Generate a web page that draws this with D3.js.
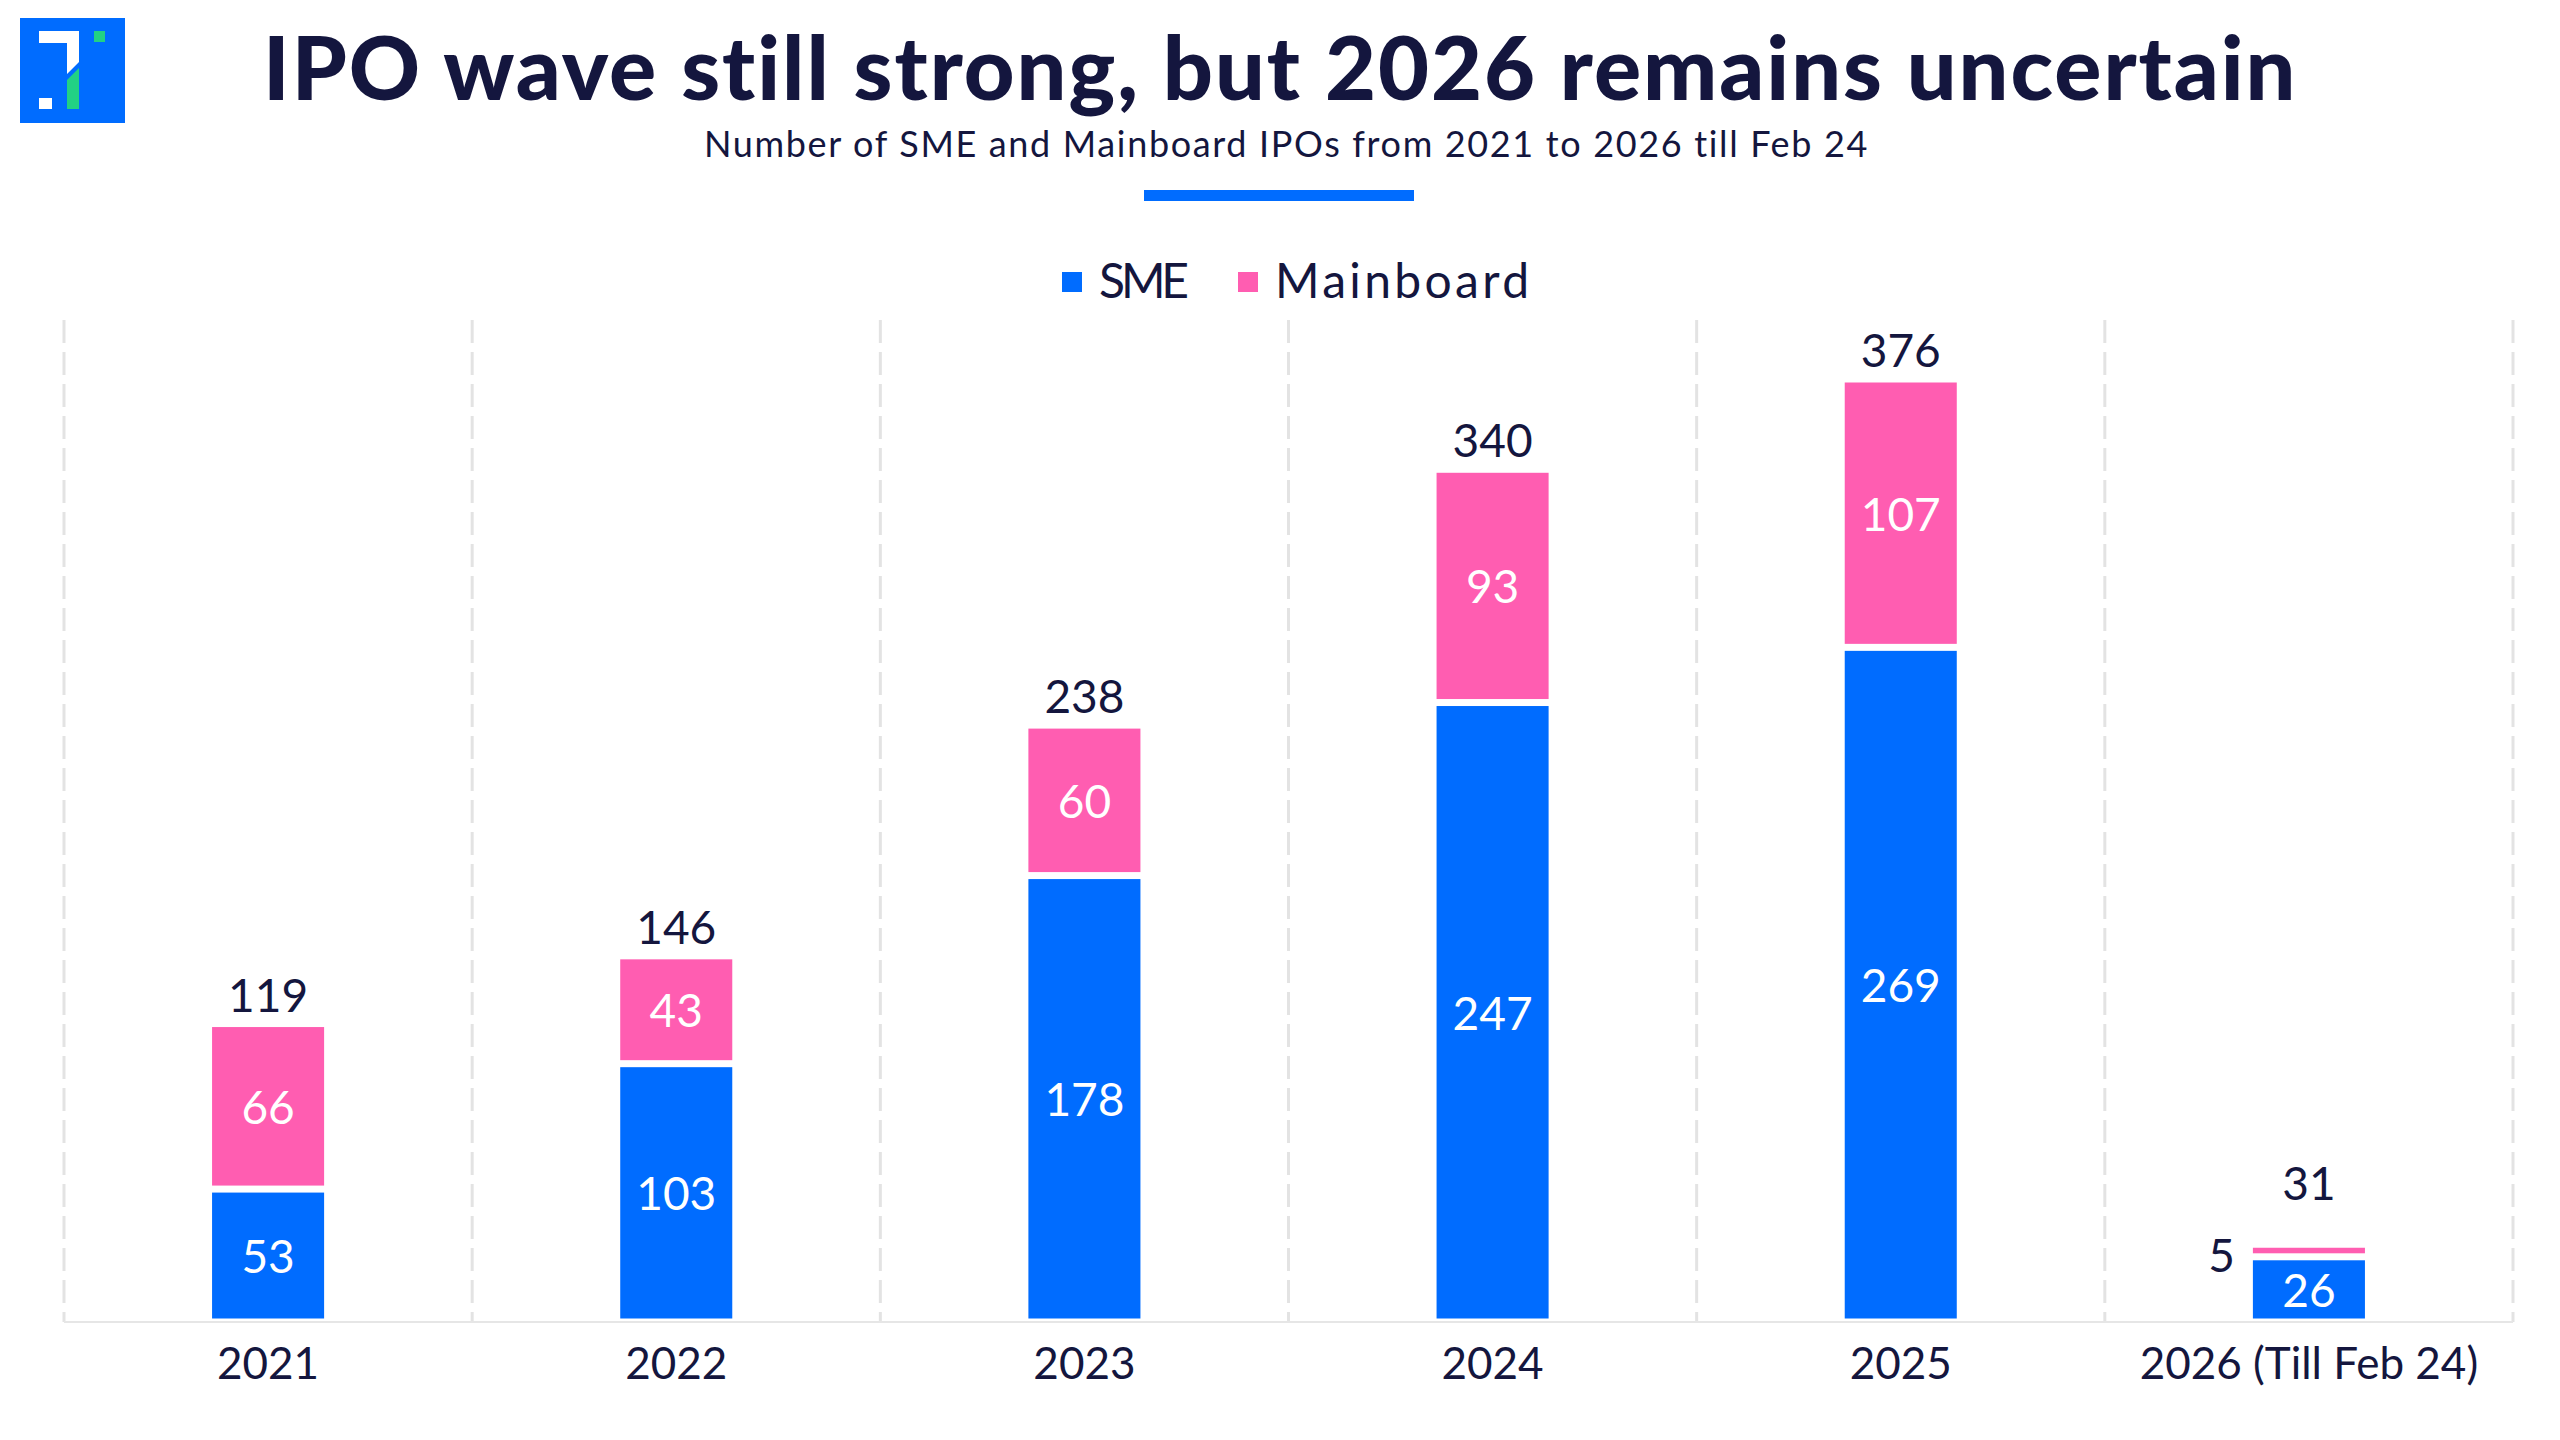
<!DOCTYPE html>
<html>
<head>
<meta charset="utf-8">
<script src="https://cdn.jsdelivr.net/npm/d3@7"></script>
<style>
  html, body { margin: 0; padding: 0; background: #fff; }
  svg { display: block; font-family: Lato, "Noto Sans", sans-serif; }
</style>
</head>
<body>
<script>
// chart data
let years = ["2021", "2022", "2023", "2024", "2025", "2026 (Till Feb 24)"];
let smeIPOs = [53, 103, 178, 247, 269, 26];
let mainboardIPOs = [66, 43, 60, 93, 107, 5];
let totalIPOs = [119, 146, 238, 340, 376, 31];
let seriesNames = ["SME", "Mainboard"];

let width = 2560;
let height = 1440;
let navy = "#14163e";
let blue = "#006cff";
let pink = "#ff5db1";
let plotLeft = 64, plotRight = 2513, plotTop = 320, baseY = 1322;

let svg = d3.select("body").append("svg").attr("width", width).attr("height", height);
svg.append("rect").attr("width", width).attr("height", height).attr("fill", "#fff");

// stretch letter-spacing so text spans a target width
function fitWidth(sel, target){
	let node = sel.node();
	let n = sel.text().length;
	let w = node.getComputedTextLength();
	sel.attr("letter-spacing", ((target - w) / Math.max(n - 1, 1)).toFixed(2));
}

// logo
let logo = svg.append("g");
logo.append("rect").attr("x", 20).attr("y", 18).attr("width", 105).attr("height", 105).attr("fill", blue);
logo.append("polygon").attr("points", "39,31 79,31 79,62 67,74 67,43 39,43").attr("fill", "#fff");
logo.append("polygon").attr("points", "79,68 79,109 67,109 67,80").attr("fill", "#22d184");
logo.append("rect").attr("x", 94).attr("y", 31).attr("width", 11).attr("height", 11).attr("fill", "#22d184");
logo.append("rect").attr("x", 39).attr("y", 98).attr("width", 13).attr("height", 11).attr("fill", "#fff");

// titles
let title = svg.append("text")
	.attr("x", 263).attr("y", 100)
	.attr("font-size", 88).attr("font-weight", 900).attr("fill", navy)
	.text("IPO wave still strong, but 2026 remains uncertain");
fitWidth(title, 2034);

let subtitle = svg.append("text")
	.attr("x", 704).attr("y", 157)
	.attr("font-size", 36).attr("fill", navy)
	.text("Number of SME and Mainboard IPOs from 2021 to 2026 till Feb 24");
fitWidth(subtitle, 1164);

svg.append("rect").attr("x", 1144).attr("y", 190).attr("width", 270).attr("height", 11).attr("fill", blue);

// legend
let legendX = [1062, 1238];
let legendWidths = [90, 254];
let legendColors = [blue, pink];
let legend = svg.selectAll(".legend").data(seriesNames).enter().append("g").attr("class", "legend");
legend.append("rect")
	.attr("x", (d, i) => legendX[i]).attr("y", 272)
	.attr("width", 20).attr("height", 20)
	.attr("fill", (d, i) => legendColors[i]);
legend.append("text")
	.attr("x", (d, i) => legendX[i] + 37).attr("y", 298)
	.attr("font-size", 48).attr("fill", navy)
	.text(d => d)
	.each(function(d, i){ fitWidth(d3.select(this), legendWidths[i]); });

// scales
let xScale = d3.scaleBand()
	.domain(years)
	.range([plotLeft, plotRight])
	.paddingInner(0.7255)
	.paddingOuter(0.7255 / 2);

let yScale = d3.scaleLinear()
	.domain([0, d3.max(totalIPOs)])
	.range([baseY, 379]);

// dashed vertical grid lines at band edges
let gridX = years.map(y => xScale(y) - xScale.step() * xScale.paddingOuter()).concat([plotRight]);
svg.selectAll(".grid").data(gridX).enter().append("line")
	.attr("x1", d => d).attr("x2", d => d)
	.attr("y1", plotTop).attr("y2", baseY)
	.attr("stroke", "#e3e3e3").attr("stroke-width", 3)
	.attr("stroke-dasharray", "23,9");

// stacked data
let rows = years.map((y, i) => ({year: y, SME: smeIPOs[i], Mainboard: mainboardIPOs[i], total: totalIPOs[i]}));
let stacked = d3.stack().keys(seriesNames)(rows);
let colorScale = d3.scaleOrdinal().domain(seriesNames).range([blue, pink]);
let gap = 3.5;

let layers = svg.selectAll(".layer").data(stacked).enter().append("g")
	.attr("class", "layer")
	.attr("fill", d => colorScale(d.key));

layers.selectAll("rect").data(d => d).enter().append("rect")
	.attr("x", d => xScale(d.data.year))
	.attr("y", d => yScale(d[1]) + gap)
	.attr("width", xScale.bandwidth())
	.attr("height", d => Math.max(yScale(d[0]) - yScale(d[1]) - 2 * gap, 0));

// segment labels
let labelSize = 46;
layers.each(function(layer){
	d3.select(this).selectAll("text").data(layer).enter().append("text")
		.attr("font-size", labelSize)
		.attr("dominant-baseline", "central")
		.each(function(d){
			let h = yScale(d[0]) - yScale(d[1]);
			let cy = (yScale(d[0]) + yScale(d[1])) / 2;
			let t = d3.select(this).text(d[1] - d[0]);
			if(h < labelSize){
				// too thin: put the number to the left of the bar
				t.attr("x", xScale(d.data.year) - 18).attr("y", cy + 4)
				 .attr("text-anchor", "end").attr("fill", navy);
				d.data.outside = true;
			} else {
				t.attr("x", xScale(d.data.year) + xScale.bandwidth() / 2).attr("y", cy)
				 .attr("text-anchor", "middle").attr("fill", "#fff");
			}
		});
});

// totals
svg.selectAll(".total").data(rows).enter().append("text")
	.attr("class", "total")
	.attr("x", d => xScale(d.year) + xScale.bandwidth() / 2)
	.attr("y", d => yScale(d.total) - (d.outside ? 44 : 12))
	.attr("text-anchor", "middle")
	.attr("font-size", labelSize).attr("fill", navy)
	.text(d => d.total);

// x axis
let xAxis = d3.axisBottom(xScale).tickSize(0).tickPadding(24);
let axisG = svg.append("g")
	.attr("transform", `translate(0,${baseY})`)
	.call(xAxis);
axisG.select(".domain").attr("stroke", "#e6e6e6").attr("stroke-width", 2)
	.attr("d", `M${plotLeft},0H${plotRight}`);
axisG.selectAll(".tick text")
	.attr("font-size", 44).attr("fill", navy)
	.attr("font-family", "Lato, 'Noto Sans', sans-serif")
	.attr("dy", "0.75em");
</script>
</body>
</html>
